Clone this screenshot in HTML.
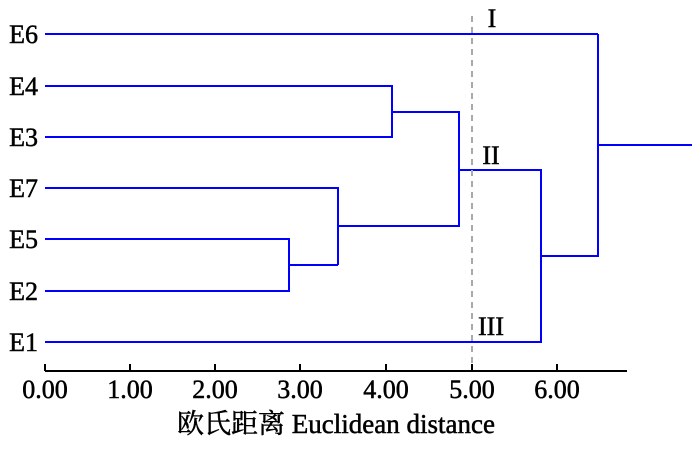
<!DOCTYPE html>
<html><head><meta charset="utf-8"><style>
body{margin:0;background:#fff;}
svg text{font-family:"Liberation Serif","Noto Serif CJK SC",serif;fill:#000;stroke:#000;stroke-width:0.5;}
</style></head><body>
<svg width="700" height="448" viewBox="0 0 700 448" xmlns="http://www.w3.org/2000/svg">
<g stroke="#0000ff" stroke-width="2" fill="none">
<polyline points="45,34 598,34"/>
<polyline points="45,86 392,86 392,137 45,137"/>
<polyline points="45,239 289,239 289,291 45,291"/>
<polyline points="289,265 338,265"/>
<polyline points="45,188 338,188 338,265"/>
<polyline points="338,226 459,226 459,112 392,112"/>
<polyline points="459,170 541,170 541,342 45,342"/>
<polyline points="541,256 598,256 598,34"/>
<polyline points="598,145 692,145"/>
</g>
<line x1="472" y1="16" x2="472" y2="371" stroke="#aaa" stroke-width="2" stroke-dasharray="6,5"/>
<g stroke="#000" stroke-width="2">
<line x1="45" y1="371" x2="627" y2="371"/>
<line x1="45" y1="364" x2="45" y2="371"/>
<line x1="130" y1="364" x2="130" y2="371"/>
<line x1="215" y1="364" x2="215" y2="371"/>
<line x1="300" y1="364" x2="300" y2="371"/>
<line x1="386" y1="364" x2="386" y2="371"/>
<line x1="472" y1="364" x2="472" y2="371"/>
<line x1="557" y1="364" x2="557" y2="371"/>
</g>
<g font-size="26" text-anchor="end">
<text x="38" y="43">E6</text>
<text x="38" y="95">E4</text>
<text x="38" y="146">E3</text>
<text x="38" y="197">E7</text>
<text x="38" y="248">E5</text>
<text x="38" y="300">E2</text>
<text x="38" y="351">E1</text>
</g>
<g font-size="26" text-anchor="middle">
<text x="45" y="398">0.00</text>
<text x="130" y="398">1.00</text>
<text x="215" y="398">2.00</text>
<text x="300" y="398">3.00</text>
<text x="386" y="398">4.00</text>
<text x="472" y="398">5.00</text>
<text x="557" y="398">6.00</text>
<text x="336" y="433" font-size="27">欧氏距离 Euclidean distance</text>
<text x="492" y="27">I</text>
<text x="491" y="164">II</text>
<text x="491" y="335">III</text>
</g>
</svg>
</body></html>
